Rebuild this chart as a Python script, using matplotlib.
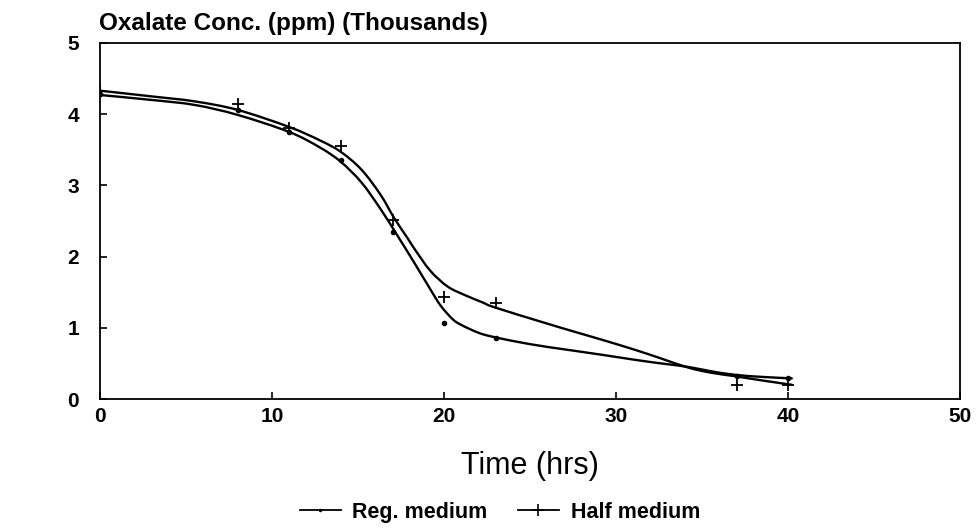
import matplotlib.pyplot as plt
from matplotlib.lines import Line2D
from matplotlib.path import Path
from matplotlib.patches import PathPatch

plt.rcParams['font.family'] = ['Liberation Sans', 'DejaVu Sans']

# measured points
t_pts = [0, 8, 11, 14, 17, 20, 23, 37, 40]
reg_pts = [4.28, 4.06, 3.75, 3.35, 2.34, 1.07, 0.86, 0.32, 0.29]
half_pts = [4.33, 4.14, 3.81, 3.56, 2.51, 1.43, 1.35, 0.20, 0.20]

# fitted curves
t_reg_curve = [0, 3, 5.5, 8, 11, 12.8, 14, 15.2, 16.3, 17.3, 18.3, 19.2, 19.8, 20.5, 21,
               22, 22.9, 25, 27.2, 29.2, 31.1, 32.6, 34.2, 35.5, 36.9, 38.5, 40.2]
reg_curve = [4.27, 4.20, 4.13, 3.99, 3.75, 3.53, 3.33, 3.04, 2.67, 2.29, 1.90, 1.54, 1.31,
             1.12, 1.04, 0.93, 0.87, 0.77, 0.69, 0.62, 0.55, 0.50, 0.45, 0.39, 0.34, 0.31, 0.29]
t_half_curve = [0, 3, 5.5, 8, 11, 12.8, 14, 15.2, 16.3, 17.1, 17.9, 18.3, 19.2, 20.2, 21.2,
                22.2, 22.9, 25.7, 27.5, 29.2, 31.1, 32.6, 34.2, 35.5, 36.9, 38.5, 40.2]
half_curve = [4.33, 4.25, 4.18, 4.06, 3.82, 3.63, 3.47, 3.22, 2.87, 2.54, 2.25, 2.10, 1.80,
              1.58, 1.46, 1.36, 1.29, 1.08, 0.95, 0.83, 0.69, 0.57, 0.44, 0.37, 0.32, 0.26, 0.20]


def smooth_path(xs, ys):
    # catmull-rom through the read points, drawn as cubic beziers
    verts = [(xs[0], ys[0])]
    codes = [Path.MOVETO]
    n = len(xs)
    for i in range(n - 1):
        x0, y0 = (xs[i - 1], ys[i - 1]) if i > 0 else (xs[i], ys[i])
        x1, y1 = xs[i], ys[i]
        x2, y2 = xs[i + 1], ys[i + 1]
        x3, y3 = (xs[i + 2], ys[i + 2]) if i + 2 < n else (x2, y2)
        c1 = (x1 + (x2 - x0) / 6, y1 + (y2 - y0) / 6)
        c2 = (x2 - (x3 - x1) / 6, y2 - (y3 - y1) / 6)
        verts += [c1, c2, (x2, y2)]
        codes += [Path.CURVE4] * 3
    return Path(verts, codes)


fig = plt.figure(figsize=(9.8, 5.28), dpi=100)
ax = fig.add_axes([0.102, 0.2443, 0.878, 0.6743])

for xs, ys in [(t_reg_curve, reg_curve), (t_half_curve, half_curve)]:
    ax.add_patch(PathPatch(smooth_path(xs, ys), facecolor='none', edgecolor='black',
                           linewidth=1.7, capstyle='round', joinstyle='round'))
ax.plot(t_pts, reg_pts, linestyle='none', marker='o', markersize=3, color='black')
ax.plot(t_pts, half_pts, linestyle='none', marker='+', markersize=9, markeredgewidth=1.3, color='black')

ax.set_xlim(0, 50)
ax.set_ylim(0, 5)
ax.set_xticks([0, 10, 20, 30, 40, 50])
ax.set_yticks([0, 1, 2, 3, 4, 5])
ax.tick_params(direction='in', length=5, width=1.2, labelsize=15, top=False, right=False)
ax.tick_params(axis='x', pad=6)
ax.tick_params(axis='y', pad=15)
for lab in ax.get_xticklabels() + ax.get_yticklabels():
    lab.set_fontweight('bold')
for sp in ax.spines.values():
    sp.set_linewidth(1.3)

ax.set_xlabel('Time (hrs)', fontsize=22, labelpad=18)
fig.text(0.101, 0.956, 'Oxalate Conc. (ppm) (Thousands)', fontsize=17.5,
         fontweight='bold', ha='left', va='center')

handles = [
    Line2D([], [], color='black', linewidth=1.3, marker='o', markersize=1.5),
    Line2D([], [], color='black', linewidth=1.3, marker='+', markersize=9, markeredgewidth=1.2),
]
fig.legend(handles, ['Reg. medium', 'Half medium'], loc='center', bbox_to_anchor=(0.51, 0.03),
           ncol=2, frameon=False, handlelength=1.9, handletextpad=0.55, columnspacing=1.4,
           prop={'weight': 'bold', 'size': 15.5})

fig.savefig('out.png', dpi=100)
